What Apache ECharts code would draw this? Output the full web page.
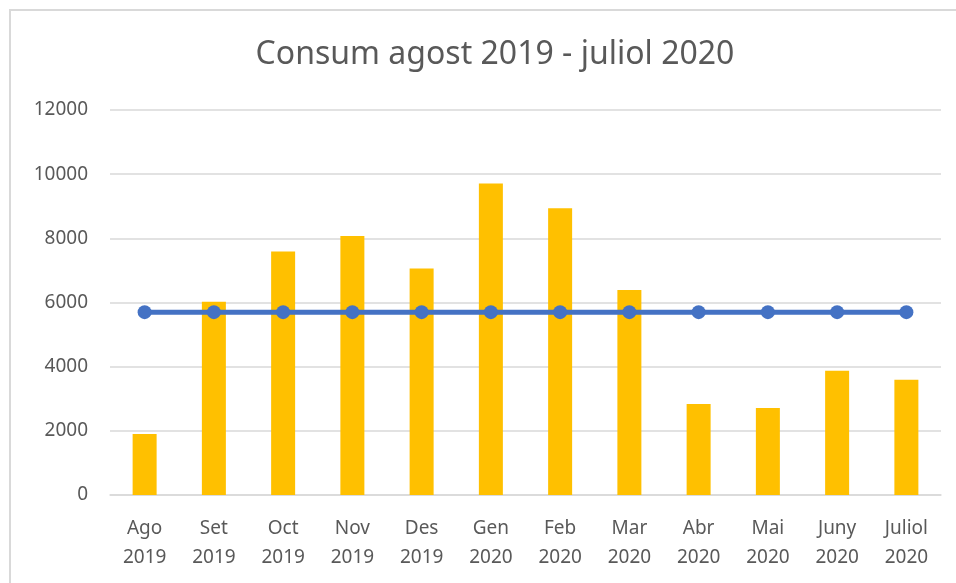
<!DOCTYPE html>
<html>
<head>
<meta charset="utf-8">
<script src="https://cdn.jsdelivr.net/npm/echarts@6/dist/echarts.min.js"></script>
<style>
  html, body { margin: 0; padding: 0; background: #fff; }
  #chart { width: 956px; height: 583px; }
</style>
</head>
<body>
<div id="chart"></div>
<script>
// dades llegides de la imatge
var months = ['Ago\n2019', 'Set\n2019', 'Oct\n2019', 'Nov\n2019', 'Des\n2019', 'Gen\n2020',
  'Feb\n2020', 'Mar\n2020', 'Abr\n2020', 'Mai\n2020', 'Juny\n2020', 'Juliol\n2020'];
var consum = [1900, 6020, 7590, 8070, 7060, 9710, 8940, 6390, 2840, 2710, 3870, 3590];
var mitjana = [5700, 5700, 5700, 5700, 5700, 5700, 5700, 5700, 5700, 5700, 5700, 5700];
var yTicks = [0, 2000, 4000, 6000, 8000, 10000, 12000];

var chart = echarts.init(document.getElementById('chart'));
var font = 'Noto Sans';

chart.setOption({
  animation: false,
  textStyle: { fontFamily: font },
  graphic: [{
    type: 'rect',
    shape: { x: 10, y: 10, width: 980, height: 620 },
    style: { fill: 'none', stroke: '#D9D9D9', lineWidth: 2 }
  }],
  title: {
    text: 'Consum agost 2019 - juliol 2020',
    left: 490,
    top: 34,
    textAlign: 'center',
    textStyle: { fontFamily: font, fontSize: 32, fontWeight: 'normal', color: '#595959' }
  },
  grid: { left: 110, right: 15, top: 110, bottom: 88, containLabel: false },
  xAxis: {
    type: 'category',
    data: months,
    axisTick: { show: false },
    axisLine: { lineStyle: { color: '#D9D9D9', width: 1.5 } },
    axisLabel: { color: '#595959', fontSize: 19, lineHeight: 29, margin: 19 }
  },
  yAxis: {
    type: 'value',
    min: yTicks[0],
    max: yTicks[yTicks.length - 1],
    interval: 2000,
    axisLine: { show: false },
    axisTick: { show: false },
    axisLabel: { color: '#595959', fontSize: 19, margin: 22, formatter: function (v) { return String(v); } },
    splitLine: { lineStyle: { color: '#D9D9D9', width: 1.5 } }
  },
  series: [{
    type: 'bar',
    data: consum,
    barWidth: 24,
    itemStyle: { color: '#FFC000' }
  }, {
    type: 'line',
    data: mitjana,
    symbol: 'circle',
    symbolSize: 14,
    lineStyle: { color: '#4472C4', width: 5 },
    itemStyle: { color: '#4472C4' }
  }]
});
</script>
</body>
</html>
